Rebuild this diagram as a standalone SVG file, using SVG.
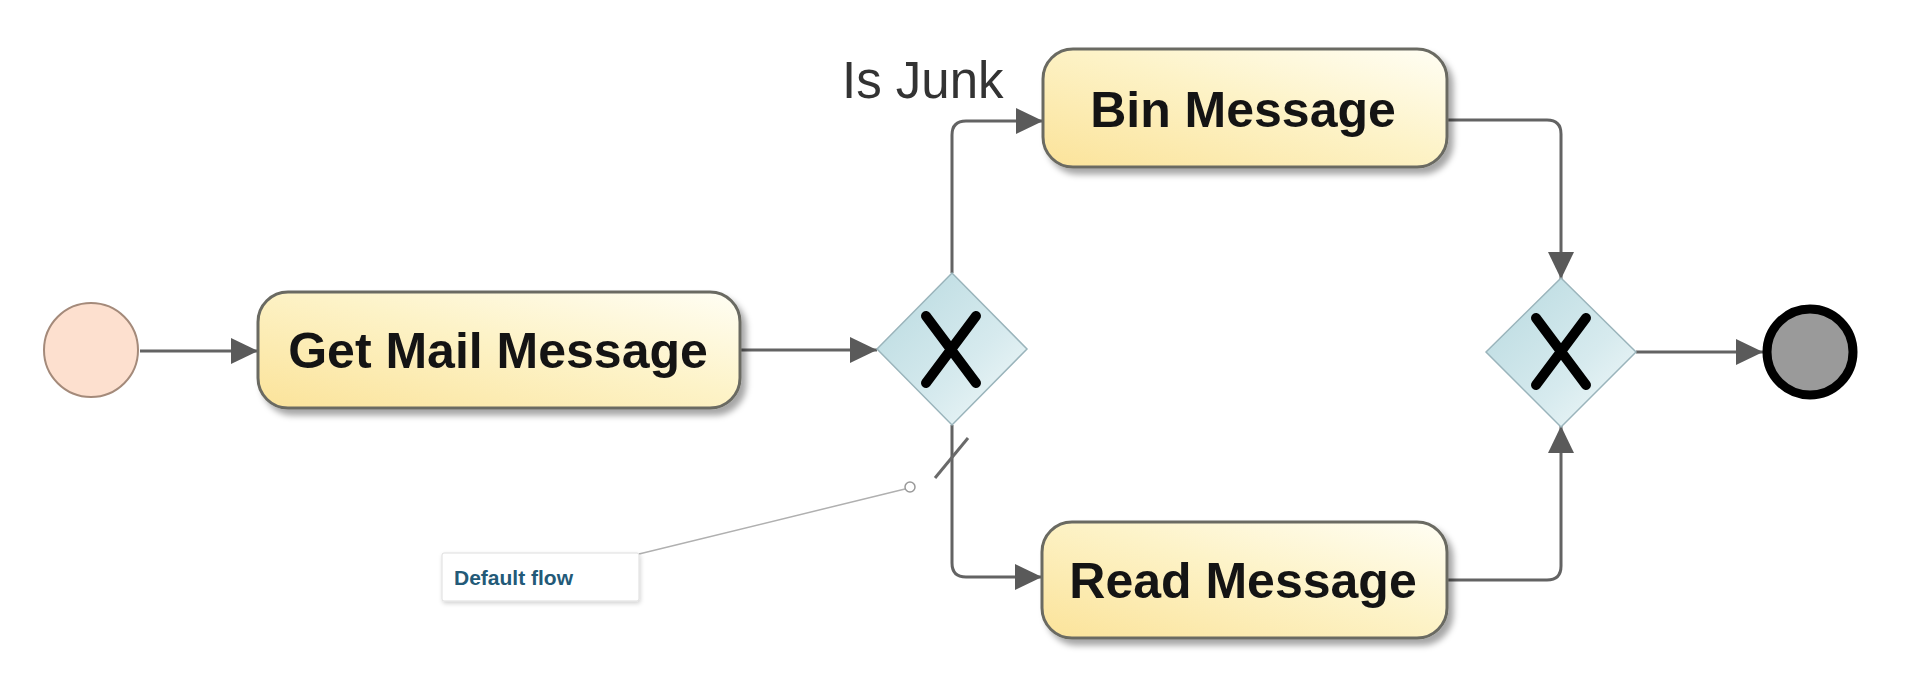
<svg xmlns="http://www.w3.org/2000/svg" width="1920" height="696" viewBox="0 0 1920 696">
  <defs>
    <linearGradient id="taskGrad" x1="0" y1="1" x2="1" y2="0">
      <stop offset="0" stop-color="#fbe39a"/>
      <stop offset="0.55" stop-color="#fdf3c8"/>
      <stop offset="1" stop-color="#fffef4"/>
    </linearGradient>
    <linearGradient id="gwGrad" x1="0" y1="0" x2="1" y2="1">
      <stop offset="0" stop-color="#b7d9df"/>
      <stop offset="0.6" stop-color="#d6eaee"/>
      <stop offset="1" stop-color="#f4fafa"/>
    </linearGradient>
    <filter id="shadow" x="-10%" y="-20%" width="130%" height="150%">
      <feDropShadow dx="5" dy="6" stdDeviation="3" flood-color="#000" flood-opacity="0.35"/>
    </filter>
    <filter id="softShadow" x="-10%" y="-20%" width="130%" height="160%">
      <feDropShadow dx="1" dy="2" stdDeviation="2" flood-color="#000" flood-opacity="0.18"/>
    </filter>
    <marker id="arrow" markerUnits="userSpaceOnUse" markerWidth="28" markerHeight="28" refX="27" refY="13" orient="auto">
      <path d="M0,0 L27,13 L0,26 z" fill="#5a5a5a"/>
    </marker>
  </defs>
  <style>
    .task { fill: url(#taskGrad); stroke: #6a6a62; stroke-width: 3; filter: url(#shadow); }
    .tlabel { font-family: "Liberation Sans", Arial, sans-serif; font-weight: bold; font-size: 50px; fill: #141414; text-anchor: middle; }
    .gw { fill: url(#gwGrad); stroke: #9ab4bb; stroke-width: 1.5; }
    .gwx { stroke: #000; stroke-width: 10; stroke-linecap: round; fill: none; }
    .flow { fill: none; stroke: #636363; stroke-width: 3; marker-end: url(#arrow); }
  </style>

  <rect width="1920" height="696" fill="#ffffff"/>

  <g id="connectors">
    <path id="c-start-get" class="flow" d="M140,351 H258"/>
    <path id="c-get-gw1" class="flow" d="M741,350 H877"/>
    <path id="c-gw1-bin" class="flow" d="M952,273 V135 Q952,121 966,121 H1043"/>
    <path id="c-gw1-read" class="flow" d="M952,425 V563 Q952,577 966,577 H1042"/>
    <line id="default-slash" x1="935" y1="478" x2="968" y2="438" stroke="#6a6a6a" stroke-width="3"/>
    <path id="c-bin-gw2" class="flow" d="M1447,120 H1547 Q1561,120 1561,134 V279"/>
    <path id="c-read-gw2" class="flow" d="M1447,580 H1547 Q1561,580 1561,566 V426"/>
    <path id="c-gw2-end" class="flow" d="M1636,352 H1763"/>
  </g>

  <g id="start">
    <circle cx="91" cy="350" r="47" fill="#fde0cf" stroke="#a48a7a" stroke-width="2"/>
  </g>

  <g id="task-get-mail">
    <rect class="task" x="258" y="292" width="482" height="116" rx="30" ry="30"/>
    <text class="tlabel" x="498" y="368">Get Mail Message</text>
  </g>

  <g id="gateway-split">
    <polygon class="gw" points="877,349 952,273 1027,349 952,425"/>
    <path class="gwx" d="M926,316 L976,383 M976,316 L926,383"/>
  </g>

  <g id="label-is-junk">
    <text x="842" y="98" font-family="Liberation Sans, Arial, sans-serif" font-size="51" fill="#333333">Is Junk</text>
  </g>

  <g id="task-bin">
    <rect class="task" x="1043" y="49" width="404" height="118" rx="30" ry="30"/>
    <text class="tlabel" x="1243" y="127">Bin Message</text>
  </g>

  <g id="task-read">
    <rect class="task" x="1042" y="522" width="405" height="116" rx="30" ry="30"/>
    <text class="tlabel" x="1243" y="598">Read Message</text>
  </g>

  <g id="gateway-join">
    <polygon class="gw" points="1486,352 1561,278 1636,352 1561,427"/>
    <path class="gwx" d="M1536,318 L1586,385 M1586,318 L1536,385"/>
  </g>

  <g id="end">
    <circle cx="1810" cy="352" r="43" fill="#9a9a9a" stroke="#000" stroke-width="9"/>
  </g>

  <g id="annotation-default-flow">
    <line x1="639" y1="554" x2="905" y2="489" stroke="#b0b0b0" stroke-width="1.5"/>
    <circle cx="910" cy="487" r="5" fill="#ffffff" stroke="#999999" stroke-width="1.5"/>
    <rect x="442" y="553" width="197" height="48" rx="2" fill="#ffffff" stroke="#dddddd" stroke-width="1" filter="url(#softShadow)"/>
    <text x="454" y="585" font-family="Liberation Sans, Arial, sans-serif" font-weight="bold" font-size="21" fill="#235a78">Default flow</text>
  </g>
</svg>
